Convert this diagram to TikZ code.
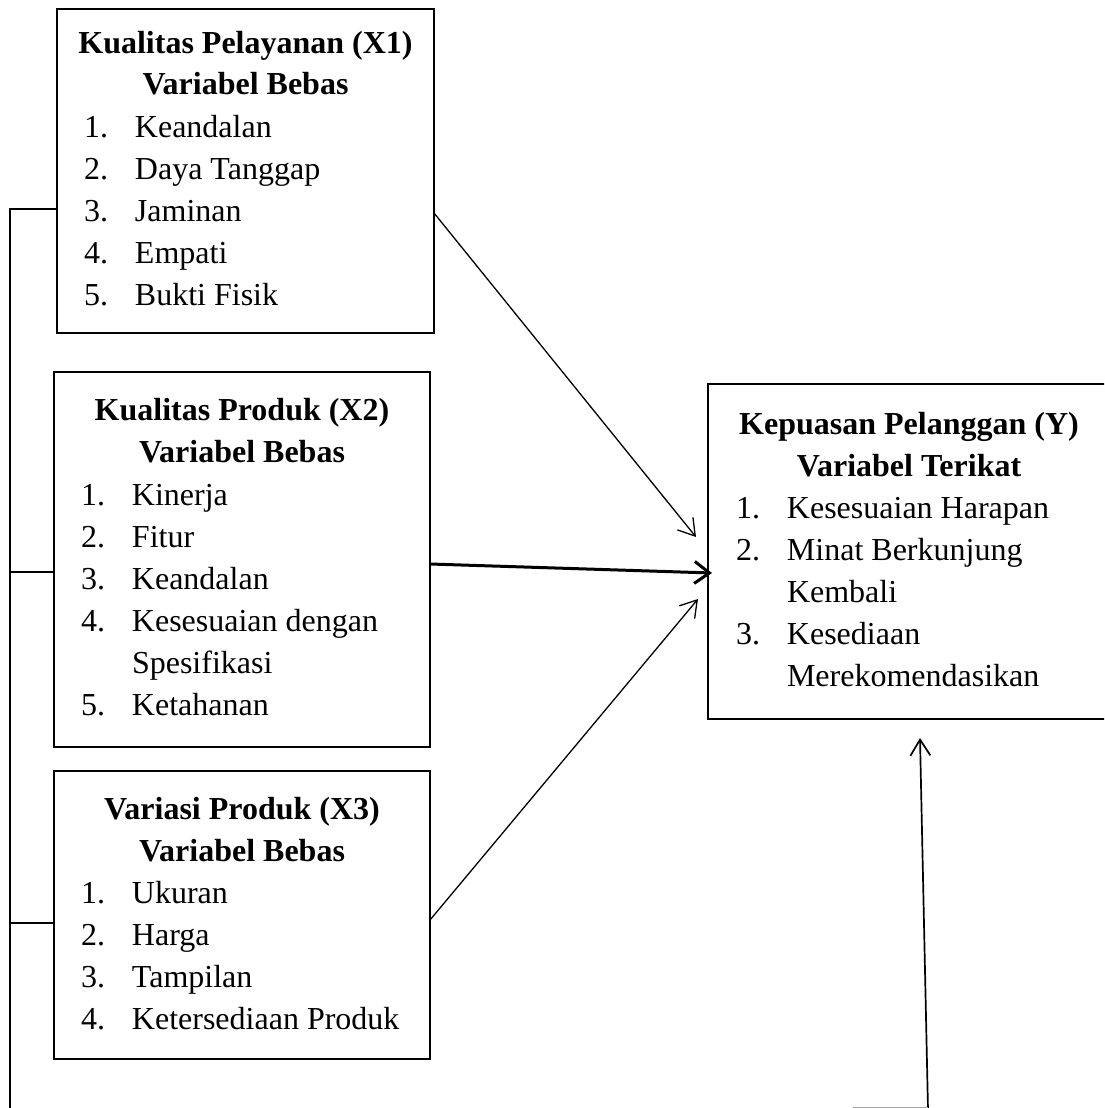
\documentclass[tikz,border=0pt]{standalone}
\usepackage{fontspec}
\setmainfont{Liberation Serif}
\usetikzlibrary{arrows.meta}
\begin{document}
\begin{tikzpicture}[x=1pt,y=-1pt,
  box/.style={draw, line width=1.6pt, anchor=north west, inner sep=0pt, outer sep=0pt},
  txt/.style={inner sep=0pt, outer sep=0pt, font=\fontsize{32}{42}\selectfont},
  ttl/.style={txt, anchor=base, font=\fontsize{32}{42}\selectfont\bfseries},
  lst/.style={txt, anchor=base west},
  thinarr/.style={line width=1.3pt, -{Straight Barb[length=16pt,width=20pt]}},
  thickarr/.style={line width=3pt, -{Straight Barb[length=15pt,width=22pt]}},
  brk/.style={line width=2.4pt}]
\useasboundingbox (0,0) rectangle (1104,1108);
\clip (0,0) rectangle (1104,1108);

% boxes
\node[box, minimum width=377pt, minimum height=324pt] (x1) at (57,9) {};
\node[box, minimum width=376pt, minimum height=375pt] (x2) at (54,372) {};
\node[box, minimum width=376pt, minimum height=288pt] (x3) at (54,771) {};
\node[box, minimum width=402pt, minimum height=335pt] (y) at (708,384) {};

% texts
\node[ttl] (x1t) at (245.5,53) {\begin{tabular}[t]{@{}c@{}}Kualitas Pelayanan (X1)\\Variabel Bebas\end{tabular}};
\node[lst] (x1l) at (84,137) {\begin{tabular}[t]{@{}p{51pt}@{}l@{}}1.&Keandalan\\2.&Daya Tanggap\\3.&Jaminan\\4.&Empati\\5.&Bukti Fisik\end{tabular}};

\node[ttl] (x2t) at (242,420) {\begin{tabular}[t]{@{}c@{}}Kualitas Produk (X2)\\Variabel Bebas\end{tabular}};
\node[lst] (x2l) at (81,505) {\begin{tabular}[t]{@{}p{51pt}@{}l@{}}1.&Kinerja\\2.&Fitur\\3.&Keandalan\\4.&Kesesuaian dengan\\&Spesifikasi\\5.&Ketahanan\end{tabular}};

\node[ttl] (x3t) at (242,819) {\begin{tabular}[t]{@{}c@{}}Variasi Produk (X3)\\Variabel Bebas\end{tabular}};
\node[lst] (x3l) at (81,903) {\begin{tabular}[t]{@{}p{51pt}@{}l@{}}1.&Ukuran\\2.&Harga\\3.&Tampilan\\4.&Ketersediaan Produk\end{tabular}};

\node[ttl] (yt) at (909,434) {\begin{tabular}[t]{@{}c@{}}Kepuasan Pelanggan (Y)\\Variabel Terikat\end{tabular}};
\node[lst] (yl) at (736,518) {\begin{tabular}[t]{@{}p{51pt}@{}l@{}}1.&Kesesuaian Harapan\\2.&Minat Berkunjung\\&Kembali\\3.&Kesediaan\\&Merekomendasikan\end{tabular}};

% connector points
\coordinate (s1) at (433,213);
\coordinate (e1) at (696,537);
\coordinate (s2) at (430,564);
\coordinate (e2) at (712,573);
\coordinate (s3) at (432,920);
\coordinate (e3) at (698,599);
\coordinate (b0) at (928,1110);
\coordinate (e4) at (920,738);
\coordinate (g0) at (853,1107.5);
\coordinate (g1) at (928,1107.5);
\coordinate (k1) at (10,209);
\coordinate (k2) at (10,572);
\coordinate (k3) at (10,923);
\coordinate (kb) at (10,1112);

% left bracket
\draw[brk] (x1.west |- k1) -- (k1) -- (kb);
\draw[brk] (x2.west |- k2) -- (k2);
\draw[brk] (x3.west |- k3) -- (k3);

% arrows
\draw[thinarr] (x1.east |- s1) -- (e1);
\draw[thickarr] (x2.east |- s2) -- (e2);
\draw[thinarr] (x3.east |- s3) -- (e3);
\draw[thinarr, line width=1.7pt] (b0) -- (e4);
\draw[line width=1pt, black!35] (g0) -- (g1);
\end{tikzpicture}
\end{document}
